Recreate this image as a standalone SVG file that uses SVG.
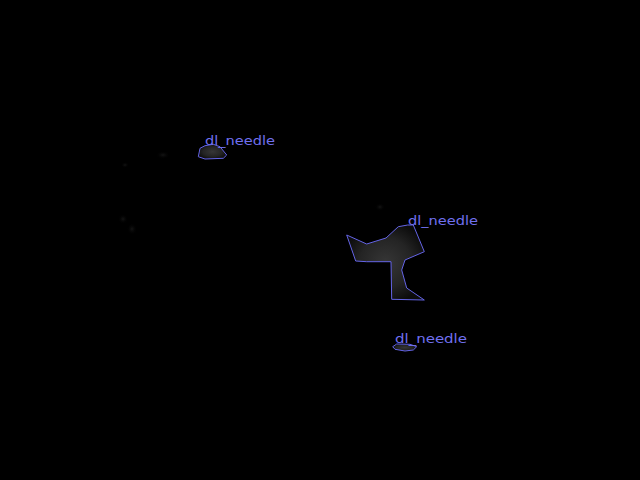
<svg xmlns="http://www.w3.org/2000/svg" width="640" height="480" viewBox="0 0 640 480">
<style>
.lbl{font-family:"DejaVu Sans","Liberation Sans",sans-serif;font-size:13px;fill:#7070f0}
.seg{stroke:#6464e6;stroke-width:1;stroke-linejoin:round}
</style>
<defs>
<radialGradient id="g" cx="50%" cy="50%" r="55%">
<stop offset="0" stop-color="#363636"/>
<stop offset="0.6" stop-color="#242424"/>
<stop offset="1" stop-color="#0c0c0c"/>
</radialGradient>
<radialGradient id="f" cx="50%" cy="50%" r="50%">
<stop offset="0" stop-color="#141414"/>
<stop offset="1" stop-color="#000000" stop-opacity="0"/>
</radialGradient>
</defs>
<rect width="640" height="480" fill="#000"/>
<g id="bg">
<ellipse cx="163" cy="155" rx="7" ry="4" fill="url(#f)"/>
<ellipse cx="125" cy="165" rx="4" ry="3" fill="url(#f)"/>
<ellipse cx="123" cy="219" rx="5" ry="5" fill="url(#f)"/>
<ellipse cx="132" cy="229" rx="5" ry="6" fill="url(#f)"/>
<ellipse cx="380" cy="207" rx="5" ry="4" fill="url(#f)"/>
</g>
<g id="needle1">
<polygon class="seg" fill="url(#g)" points="198.3,156.7 200,148.3 205,145.7 213.3,144.3 220,146.7 226.7,155 223.3,158.3 205,159"/>
<text class="lbl" x="205" y="145" textLength="70" lengthAdjust="spacingAndGlyphs">dl_needle</text>
</g>
<g id="needle2">
<polygon class="seg" fill="url(#g)" points="346.7,235 366.7,244 386,238 398.3,226.7 407.7,225 413.3,225 424.3,251.7 405,260 401.7,270 406.7,288 424.3,300 391.7,299.3 391,261.7 366.7,261.7 355.7,261"/>
<text class="lbl" x="408" y="225" textLength="70" lengthAdjust="spacingAndGlyphs">dl_needle</text>
</g>
<g id="needle3">
<polygon class="seg" fill="url(#g)" points="392.7,346.7 396.7,344 410,344.3 416.7,346.7 413.3,350 405,351 395,349.3"/>
<text class="lbl" x="395" y="343" textLength="72" lengthAdjust="spacingAndGlyphs">dl_needle</text>
</g>
<g id="connectors"/>
</svg>
